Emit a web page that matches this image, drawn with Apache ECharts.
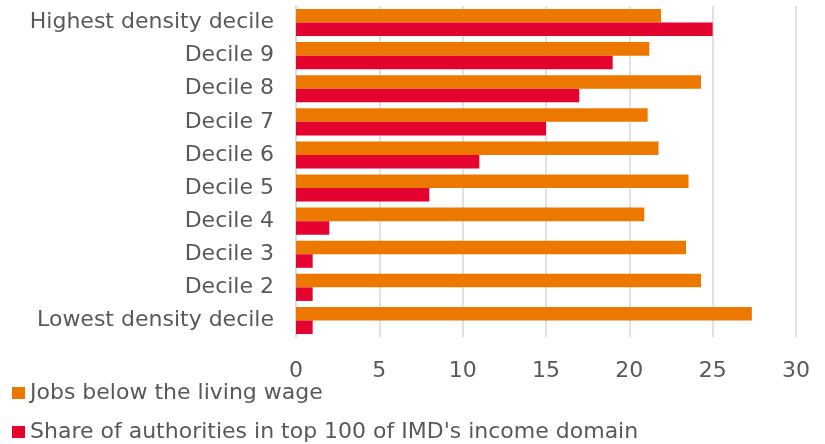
<!DOCTYPE html>
<html lang="en">
<head>
    <meta charset="utf-8">
    <title>ECharts</title>
    <script src="https://cdn.jsdelivr.net/npm/echarts@6/dist/echarts.min.js"></script>
</head>
<body style="margin:0">
<div id="main" style="width: 825px;height:444px;"></div>
<script type="text/javascript">
    // bottom to top, as on the chart
    var categories = ['Lowest density decile', 'Decile 2', 'Decile 3', 'Decile 4', 'Decile 5',
        'Decile 6', 'Decile 7', 'Decile 8', 'Decile 9', 'Highest density decile'];
    var jobsBelowLivingWage = [27.35, 24.3, 23.4, 20.9, 23.55, 21.75, 21.1, 24.3, 21.2, 21.9];
    var shareTop100Imd = [1, 1, 1, 2, 8, 11, 15, 17, 19, 25];
    var xTicks = [0, 5, 10, 15, 20, 25, 30];
    var seriesNames = ['Jobs below the living wage', "Share of authorities in top 100 of IMD's income domain"];

    var myChart = echarts.init(document.getElementById('main'));
    var textColor = '#595959';
    var fontFamily = 'DejaVu Sans';

    function legendAt(name, top) {
        return {
            left: 7,
            top: top,
            itemWidth: 13,
            itemHeight: 12,
            icon: 'rect',
            textStyle: {color: textColor, fontSize: 22, fontFamily: fontFamily},
            data: [name]
        };
    }

    option = {
        animation: false,
        legend: [legendAt(seriesNames[0], 377), legendAt(seriesNames[1], 416)],
        grid: {left: 296, right: 29, top: 6, bottom: 107},
        xAxis: {
            type: 'value',
            min: xTicks[0],
            max: xTicks[xTicks.length - 1],
            interval: 5,
            axisLine: {show: false},
            axisTick: {show: false},
            splitLine: {lineStyle: {color: '#d9d9d9', width: 1.5}},
            axisLabel: {color: textColor, fontSize: 22, fontFamily: fontFamily, margin: 23}
        },
        yAxis: {
            type: 'category',
            data: categories,
            axisLine: {lineStyle: {color: '#d9d9d9', width: 1.5}},
            axisTick: {show: false},
            axisLabel: {color: textColor, fontSize: 22, fontFamily: fontFamily, margin: 22}
        },
        series: [{
            name: seriesNames[0],
            type: 'bar',
            data: jobsBelowLivingWage,
            itemStyle: {color: '#ec7800'},
            barGap: '0%',
            barCategoryGap: '18%'
        }, {
            name: seriesNames[1],
            type: 'bar',
            data: shareTop100Imd,
            itemStyle: {color: '#e4032e'}
        }]
    };
    myChart.setOption(option);
</script>
</body>
</html>
